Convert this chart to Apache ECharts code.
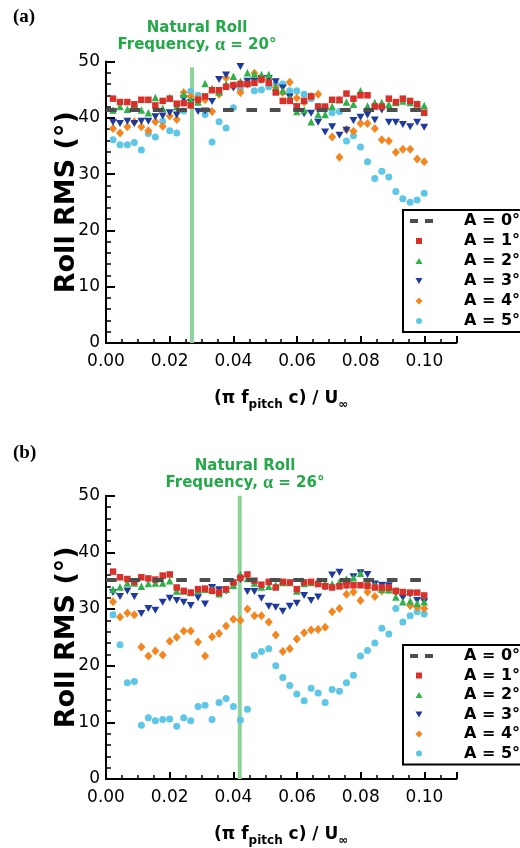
<!DOCTYPE html>
<html><head><meta charset="utf-8">
<script src="https://cdn.jsdelivr.net/npm/echarts@6/dist/echarts.min.js"></script>
<style>html,body{margin:0;padding:0;background:#fff}#c{width:520px;height:848px}</style>
</head><body><div id="c"></div>
<script>
// reduced pitch frequency (pi f_pitch c / U_inf)
const xFreq = [0.0022,0.0044,0.0067,0.0089,0.0111,0.0133,0.0155,0.0178,0.0200,0.0222,0.0244,0.0266,0.0289,0.0311,0.0333,0.0355,0.0377,0.0400,0.0422,0.0444,0.0466,0.0488,0.0511,0.0533,0.0555,0.0577,0.0599,0.0622,0.0644,0.0666,0.0688,0.0710,0.0733,0.0755,0.0777,0.0799,0.0821,0.0844,0.0866,0.0888,0.0910,0.0932,0.0955,0.0977,0.0999];
const seriesNames = ['A = 0°','A = 1°','A = 2°','A = 3°','A = 4°','A = 5°'];
const xTicks = [0, 0.02, 0.04, 0.06, 0.08, 0.10];
const yTicks = [0, 10, 20, 30, 40, 50];
// A = 0 reference (static) level
const xA0 = [0.0000, 0.1000];
const aA0 = [41.4, 41.4];
const bA0 = [35.1, 35.1];
// natural roll frequency markers
const naturalFreqA = [0.027, 0.027];
const naturalFreqB = [0.042, 0.042];
const naturalY_A = [0, 49];
const naturalY_B = [0, 50];
// panel (a) alpha = 20 deg
const aA1 = [43.4,42.8,42.8,42.4,43.2,43.2,42.2,43.0,43.4,42.5,42.6,42.2,43.2,43.8,44.9,44.9,45.5,45.8,46.0,46.0,46.2,46.8,46.2,44.5,43.0,43.0,42.0,43.0,43.8,42.0,42.0,43.2,43.2,44.3,43.4,44.0,44.0,42.0,42.0,43.4,42.8,43.4,43.0,42.4,40.9];
const aA2 = [41.4,42.0,41.5,42.4,41.4,40.9,43.6,41.7,43.6,42.0,44.2,43.2,42.8,46.1,45.2,44.6,46.0,47.4,46.5,48.0,47.8,47.7,47.7,45.4,44.8,43.5,41.1,41.4,39.3,40.6,40.6,42.0,43.2,42.8,42.4,44.8,42.1,42.7,42.7,42.4,42.7,43.0,42.7,42.5,42.2];
const aA3 = [39.2,39.0,39.4,39.0,39.4,39.4,40.2,40.3,40.9,40.5,43.4,42.7,41.1,41.2,42.9,46.8,47.6,45.3,49.1,46.5,46.5,47.0,47.0,46.4,45.3,43.7,41.9,40.7,40.8,39.2,37.5,38.4,36.9,37.8,39.5,40.1,40.5,39.6,41.4,39.2,39.2,38.8,38.4,39.2,38.3];
const aA4 = [38.1,37.3,38.4,39.3,38.4,37.7,39.3,38.5,40.3,39.7,44.5,43.8,43.4,43.2,41.1,44.2,47.1,45.7,44.5,46.0,47.9,46.8,46.8,45.4,44.5,46.3,43.5,42.8,43.8,44.2,41.7,36.6,33.0,37.9,37.6,39.0,39.0,38.1,36.1,35.9,33.9,34.4,34.4,32.7,32.2];
const aA5 = [36.1,35.2,35.2,35.6,34.3,37.2,36.6,39.4,37.7,37.3,41.2,44.7,44.0,40.6,35.7,39.3,38.2,41.8,45.1,46.1,44.8,45.0,45.5,46.0,46.0,44.8,44.8,44.2,43.4,42.0,41.5,40.9,41.1,35.9,36.8,34.8,32.2,29.2,30.5,29.5,26.9,25.6,25.0,25.4,26.6];
// panel (b) alpha = 26 deg
const bA1 = [36.6,35.6,35.3,34.8,35.6,35.4,35.2,35.9,36.1,33.8,33.2,32.9,33.5,33.6,33.2,32.9,33.5,34.7,35.5,36.1,35.0,34.3,34.8,33.8,34.8,34.7,33.5,34.7,34.8,34.4,34.0,33.8,34.0,34.2,34.2,34.2,34.1,33.8,33.8,33.8,33.2,33.0,32.9,32.9,32.4];
const bA2 = [33.5,33.9,34.6,34.6,34.0,34.5,34.6,34.6,35.0,33.2,33.2,32.9,33.3,33.5,33.5,32.7,33.5,34.2,36.1,35.4,34.6,33.9,34.0,34.2,34.7,34.7,33.2,34.5,34.7,35.0,34.5,34.4,34.8,35.3,35.5,36.3,34.8,34.2,33.5,33.4,32.1,31.3,31.4,31.0,31.3];
const bA3 = [32.9,32.2,33.2,32.2,29.2,30.1,29.8,31.2,31.9,31.5,31.2,30.6,32.0,30.9,33.8,33.4,33.2,34.0,35.2,33.1,33.1,31.9,30.5,30.3,29.6,30.5,31.0,32.4,31.5,32.1,33.9,36.0,36.5,34.1,35.7,36.4,36.1,34.4,34.2,34.1,32.9,32.0,32.6,31.5,31.3];
const bA4 = [31.3,28.6,29.3,29.0,23.3,21.7,22.6,21.9,24.3,25.0,26.1,26.1,24.2,21.7,25.1,25.7,27.0,28.2,28.0,30.0,28.8,28.8,27.7,25.4,22.5,23.0,24.7,25.8,26.3,26.4,26.8,29.5,30.1,32.6,33.0,31.5,33.0,32.2,33.2,33.4,33.0,32.5,30.6,30.3,30.1];
const bA5 = [29.0,23.7,17.0,17.2,9.5,10.8,10.3,10.5,10.6,9.3,10.8,10.3,12.8,13.0,10.5,13.5,14.2,12.8,10.4,12.3,21.8,22.5,23.0,20.0,17.9,16.5,15.0,13.8,16.0,15.2,13.5,15.8,15.5,17.0,18.3,21.7,22.7,24.0,26.6,25.6,30.1,27.7,28.8,29.5,29.1];

const GREEN = '#25a84a';
const BOX = 'M0,0M23,7';
const markerStyles = [
  {icon:'path://' + BOX + 'M0,1.5h8v4h-8zM15,1.5h8v4h-8z', color:'#4d4d4d'},
  {symbol:'rect', size:6.5, color:'#d8312a', icon:'path://' + BOX + 'M6,0.5h6v6h-6z'},
  {symbol:'triangle', size:7.5, color:'#2fb24a', icon:'path://' + BOX + 'M5.5,6.5L9,0.5L12.5,6.5Z'},
  {symbol:'path://M0,0L10,0L5,9Z', size:[8,7], color:'#1f3a9c', icon:'path://' + BOX + 'M5.5,0.5L12.5,0.5L9,6.5Z'},
  {symbol:'diamond', size:[8,9], color:'#f5861f', icon:'path://' + BOX + 'M9,0L12.5,3.5L9,7L5.5,3.5Z'},
  {symbol:'circle', size:7, color:'#5ec6e6', icon:'path://' + BOX + 'M6,3.5A3,3 0 1 1 12,3.5A3,3 0 1 1 6,3.5Z'}
];

const chart = echarts.init(document.getElementById('c'), null, {renderer:'canvas'});
const FONT = '"DejaVu Sans", sans-serif';
const pxPerUnit = 3185;
const XMAX = 0.11;

function xAxisFor(gi){
  return {
    type:'value', gridIndex:gi, min:0, max:XMAX, interval:0.02,
    axisLine:{show:true, onZero:false, lineStyle:{color:'#000', width:2}},
    axisTick:{show:true, inside:true, length:7, lineStyle:{color:'#000', width:2}},
    minorTick:{show:true, splitNumber:4, length:4, lineStyle:{color:'#000', width:1.5}},
    splitLine:{show:false},
    axisLabel:{color:'#000', fontFamily:FONT, fontSize:17, margin:10, showMaxLabel:false,
      formatter: v => xTicks.some(t => Math.abs(t - v) < 1e-9) ? v.toFixed(2) : ''},
    name:'{n|(π f}{s|pitch}{n| c) / U}{s|∞}',
    nameLocation:'middle', nameGap:44, nameMoveOverlap:false,
    nameTextStyle:{padding:[0,0,0,0], rich:{
      n:{fontFamily:FONT, fontWeight:'bold', fontSize:17, color:'#000'},
      s:{fontFamily:FONT, fontWeight:'bold', fontSize:12, color:'#000', padding:[12,0,0,0]}
    }}
  };
}
function yAxisFor(gi){
  return {
    type:'value', gridIndex:gi, min:0, max:50, interval:10,
    axisLine:{show:true, onZero:false, lineStyle:{color:'#000', width:2}},
    axisTick:{show:true, inside:true, length:9, lineStyle:{color:'#000', width:2}},
    minorTick:{show:true, splitNumber:5, length:5, lineStyle:{color:'#000', width:1.5}},
    splitLine:{show:false},
    axisLabel:{color:'#000', fontFamily:FONT, fontSize:17, margin:6,
      formatter: v => yTicks.includes(v) ? String(v) : ''},
    name:'Roll RMS (°)', nameLocation:'middle', nameGap:26, nameRotate:90, nameMoveOverlap:false,
    nameTextStyle:{fontFamily:FONT, fontWeight:'bold', fontSize:27, color:'#000'}
  };
}

function panelSeries(gi, A0, vals, natX, natY){
  const s = [];
  s.push({type:'line', name:'natural', xAxisIndex:gi, yAxisIndex:gi, silent:true, symbol:'none',
    lineStyle:{color:'#8dd39a', width:4}, data: natX.map((x,i)=>[x, natY[i]]), z:1});
  for (let k = 5; k >= 1; k--) {
    const m = markerStyles[k];
    s.push({type:'scatter', name:seriesNames[k], xAxisIndex:gi, yAxisIndex:gi,
      symbol:m.symbol, symbolSize:m.size, itemStyle:{color:m.color, opacity:1},
      data: xFreq.map((x,i)=>[x, vals[k-1][i]]), z:3});
  }
  s.push({type:'line', name:seriesNames[0], xAxisIndex:gi, yAxisIndex:gi, symbol:'none', silent:true,
    lineStyle:{color:'#4d4d4d', width:4, type:[10.7,12.7]}, itemStyle:{color:'#4d4d4d'},
    data: xA0.map((x,i)=>[x, A0[i]]), z:4});
  return s;
}

function legendFor(top, gap){
  return {
    orient:'vertical', left:403, top:top, padding:[3,8,3,7],
    backgroundColor:'#fff', borderColor:'#000', borderWidth:2, borderRadius:0,
    itemWidth:23, itemHeight:7, itemGap:gap, symbolKeepAspect:true, selectedMode:false,
    textStyle:{fontFamily:FONT, fontWeight:'bold', fontSize:16, lineHeight:16, color:'#000', padding:[0,0,0,26]},
    data: seriesNames.map((n,k)=> ({name:n, icon:markerStyles[k].icon, itemStyle:{color:markerStyles[k].color}}))
  };
}

function natTitle(left, top, alpha){
  return {
    left:left, top:top, textAlign:'center',
    text:'Natural Roll\n{b|Frequency, }{g|α}{b| = ' + alpha + '°}',
    textStyle:{fontFamily:FONT, fontWeight:'bold', fontSize:15, lineHeight:17, color:GREEN,
      rich:{ b:{fontFamily:FONT, fontWeight:'bold', fontSize:15, color:GREEN},
             g:{fontFamily:'"Liberation Serif", serif', fontSize:18, color:GREEN} }}
  };
}

const option = {
  backgroundColor:'#fff',
  animation:false,
  title:[
    {text:'(a)', left:8, top:3, textStyle:{fontFamily:'"Liberation Serif", serif', fontWeight:'bold', fontSize:19, color:'#000'}},
    {text:'(b)', left:8, top:439, textStyle:{fontFamily:'"Liberation Serif", serif', fontWeight:'bold', fontSize:19, color:'#000'}},
    natTitle(192, 15, 20),
    natTitle(240, 453, 26)
  ],
  grid:[
    {left:106, top:61.5, width:XMAX*pxPerUnit, height:281.5, containLabel:false},
    {left:106, top:495.7, width:XMAX*pxPerUnit, height:286, containLabel:false}
  ],
  xAxis:[xAxisFor(0), xAxisFor(1)],
  yAxis:[yAxisFor(0), yAxisFor(1)],
  legend:[legendFor(210, 4), legendFor(645, 3.5)],
  series:[
    ...panelSeries(0, aA0, [aA1,aA2,aA3,aA4,aA5], naturalFreqA, naturalY_A),
    ...panelSeries(1, bA0, [bA1,bA2,bA3,bA4,bA5], naturalFreqB, naturalY_B)
  ]
};
chart.setOption(option);
</script>
</body></html>
